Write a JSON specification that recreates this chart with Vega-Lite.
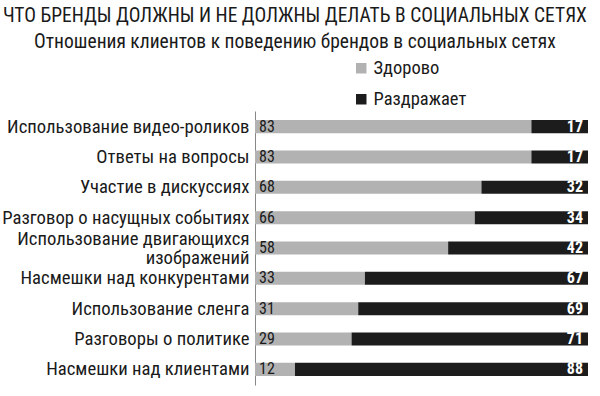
{
  "$schema": "https://vega.github.io/schema/vega-lite/v6.json",
  "width": 333,
  "height": 274,
  "autosize": "none",
  "padding": {"left": 255, "top": 111, "right": 12, "bottom": 11},
  "background": "white",
  "config": {
    "font": "Roboto Condensed, Liberation Sans Narrow, DejaVu Sans Condensed, sans-serif",
    "view": {"stroke": null}
  },
  "title": {
    "text": "ЧТО БРЕНДЫ ДОЛЖНЫ И НЕ ДОЛЖНЫ ДЕЛАТЬ В СОЦИАЛЬНЫХ СЕТЯХ",
    "subtitle": "Отношения клиентов к поведению брендов в социальных сетях",
    "anchor": "middle",
    "frame": "bounds",
    "fontSize": 19.5,
    "fontWeight": "normal",
    "color": "#1a1a1a",
    "subtitleFontSize": 19.5,
    "subtitleColor": "#1a1a1a",
    "subtitlePadding": 6,
    "offset": 7
  },
  "data": {
    "values": [
      {"cat": "Использование видео-роликов", "type": "Здорово", "value": 83},
      {"cat": "Использование видео-роликов", "type": "Раздражает", "value": 17},
      {"cat": "Ответы на вопросы", "type": "Здорово", "value": 83},
      {"cat": "Ответы на вопросы", "type": "Раздражает", "value": 17},
      {"cat": "Участие в дискуссиях", "type": "Здорово", "value": 68},
      {"cat": "Участие в дискуссиях", "type": "Раздражает", "value": 32},
      {"cat": "Разговор о насущных событиях", "type": "Здорово", "value": 66},
      {"cat": "Разговор о насущных событиях", "type": "Раздражает", "value": 34},
      {"cat": "Использование двигающихся|изображений", "type": "Здорово", "value": 58},
      {"cat": "Использование двигающихся|изображений", "type": "Раздражает", "value": 42},
      {"cat": "Насмешки над конкурентами", "type": "Здорово", "value": 33},
      {"cat": "Насмешки над конкурентами", "type": "Раздражает", "value": 67},
      {"cat": "Использование сленга", "type": "Здорово", "value": 31},
      {"cat": "Использование сленга", "type": "Раздражает", "value": 69},
      {"cat": "Разговоры о политике", "type": "Здорово", "value": 29},
      {"cat": "Разговоры о политике", "type": "Раздражает", "value": 71},
      {"cat": "Насмешки над клиентами", "type": "Здорово", "value": 12},
      {"cat": "Насмешки над клиентами", "type": "Раздражает", "value": 88}
    ]
  },
  "encoding": {
    "y": {
      "field": "cat",
      "type": "nominal",
      "sort": null,
      "title": null,
      "scale": {"paddingInner": 0.57, "paddingOuter": 0.3},
      "axis": {
        "domain": true,
        "domainColor": "#888888",
        "domainWidth": 1,
        "ticks": false,
        "labelFontSize": 18.7,
        "labelColor": "#1a1a1a",
        "labelPadding": 6,
        "labelLimit": 300,
        "labelLineHeight": 19,
        "labelOffset": {"condition": {"test": "indexof(datum.value, '|') >= 0", "value": -9}, "value": 0},
        "labelExpr": "split(datum.label, '|')"
      }
    }
  },
  "layer": [
    {
      "mark": {"type": "bar"},
      "encoding": {
        "x": {
          "field": "value",
          "type": "quantitative",
          "stack": "zero",
          "scale": {"domain": [0, 100], "nice": false},
          "axis": null
        },
        "order": {"field": "type", "sort": "ascending"},
        "color": {
          "field": "type",
          "type": "nominal",
          "scale": {"domain": ["Здорово", "Раздражает"], "range": ["#b2b2b2", "#1c1c1c"]},
          "legend": {
            "title": null,
            "orient": "none",
            "legendX": 97,
            "legendY": -52,
            "symbolType": "square",
            "symbolSize": 110,
            "labelFontSize": 18.5,
            "labelColor": "#1a1a1a",
            "rowPadding": 12,
            "labelOffset": 3
          }
        }
      }
    },
    {
      "transform": [{"filter": "datum.type === 'Здорово'"}],
      "mark": {"type": "text", "align": "left", "dx": 4, "fontSize": 16, "color": "#1a1a1a"},
      "encoding": {
        "x": {"datum": 0, "type": "quantitative"},
        "text": {"field": "value", "type": "quantitative"}
      }
    },
    {
      "transform": [{"filter": "datum.type === 'Раздражает'"}],
      "mark": {"type": "text", "align": "right", "dx": -5, "fontSize": 16, "fontWeight": "bold", "color": "white"},
      "encoding": {
        "x": {"datum": 100, "type": "quantitative"},
        "text": {"field": "value", "type": "quantitative"}
      }
    }
  ]
}
